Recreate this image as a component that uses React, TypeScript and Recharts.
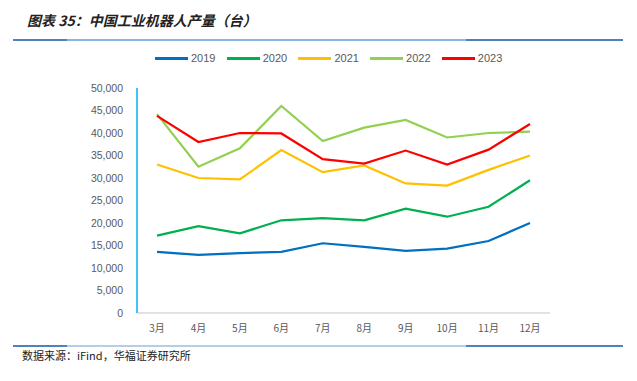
import { LineChart, Line, XAxis, YAxis, CartesianGrid } from 'recharts'

const months = ['3月', '4月', '5月', '6月', '7月', '8月', '9月', '10月', '11月', '12月']
const years = ['2019', '2020', '2021', '2022', '2023']
const colors = ['#0070C0', '#00B050', '#FFC000', '#92D050', '#FF0000']

const v2019 = [13600, 12900, 13300, 13600, 15500, 14700, 13800, 14300, 16000, 20000]
const v2020 = [17200, 19300, 17700, 20600, 21100, 20600, 23200, 21400, 23600, 29500]
const v2021 = [33000, 30000, 29700, 36200, 31300, 32800, 28800, 28300, 31800, 35000]
const v2022 = [44200, 32500, 36600, 46000, 38200, 41200, 42900, 39000, 40000, 40300]
const v2023 = [43800, 38000, 40000, 39900, 34200, 33200, 36100, 33000, 36300, 42000]
const yTicks = [0, 5000, 10000, 15000, 20000, 25000, 30000, 35000, 40000, 45000, 50000]

const series = [v2019, v2020, v2021, v2022, v2023]

const data = months.map((m, i) => {
  const row: Record<string, string | number> = { month: m }
  years.forEach((y, k) => {
    row[y] = series[k][i]
  })
  return row
})

const cjk = '"Noto Sans CJK SC", "Liberation Sans", sans-serif'

export default function App() {
  return (
    <div
      style={{
        position: 'absolute',
        left: 0,
        top: 0,
        width: 637,
        height: 381,
        background: '#fff',
        fontFamily: cjk,
        overflow: 'hidden',
      }}
    >
      {/* title */}
      <div
        style={{
          position: 'absolute',
          left: 27,
          top: 10,
          fontSize: 14,
          fontWeight: 'bold',
          fontStyle: 'italic',
          color: '#222',
        }}
      >
        图表 35：中国工业机器人产量（台）
      </div>
      <div style={{ position: 'absolute', left: 13, top: 39, width: 610, height: 2, background: '#8EB4E3' }} />
      <div style={{ position: 'absolute', left: 13, top: 39, width: 54, height: 2, background: '#4F81BD' }} />
      <div style={{ position: 'absolute', left: 466, top: 39, width: 157, height: 2, background: '#4F81BD' }} />

      {/* legend */}
      {years.map((y, k) => (
        <div
          key={y}
          style={{
            position: 'absolute',
            left: 155 + k * 71.7,
            top: 52,
            display: 'flex',
            alignItems: 'center',
            fontSize: 11,
            color: '#595959',
            fontFamily: '"Liberation Sans", sans-serif',
          }}
        >
          <div style={{ width: 33, height: 3, background: colors[k], marginRight: 3 }} />
          {y}
        </div>
      ))}

      <div style={{ position: 'absolute', left: 0, top: 45 }}>
        <LineChart
          width={637}
          height={300}
          data={data}
          margin={{ top: 43, right: 87, left: 0, bottom: 10 }}
        >
          <CartesianGrid horizontal={false} vertical={false} />
          <XAxis
            dataKey="month"
            height={22}
            padding={{ left: 20, right: 20 }}
            axisLine={{ stroke: '#D9D9D9', strokeWidth: 1.5 }}
            tickLine={false}
            tick={{ fontSize: 10, fill: '#595959', fontFamily: cjk, dy: 4 }}
            interval={0}
          />
          <YAxis
            width={137}
            domain={[0, 50000]}
            ticks={yTicks}
            axisLine={{ stroke: '#00B0F0', strokeWidth: 1.5 }}
            tickLine={false}
            tickMargin={8}
            tick={{ fontSize: 10.5, fill: '#595959', fontFamily: '"Liberation Sans", sans-serif' }}
            tickFormatter={(v: number) => v.toLocaleString('en-US')}
          />
          {years.map((y, k) => (
            <Line
              key={y}
              dataKey={y}
              stroke={colors[k]}
              strokeWidth={2.2}
              dot={false}
              isAnimationActive={false}
            />
          ))}
        </LineChart>
      </div>

      {/* footer */}
      <div style={{ position: 'absolute', left: 13, top: 345, width: 610, height: 2, background: '#B8CCE4' }} />
      <div style={{ position: 'absolute', left: 13, top: 345, width: 54, height: 2, background: '#4F81BD' }} />
      <div style={{ position: 'absolute', left: 466, top: 345, width: 157, height: 2, background: '#4F81BD' }} />
      <div style={{ position: 'absolute', left: 22, top: 347, fontSize: 11, color: '#222' }}>
        数据来源：iFind，华福证券研究所
      </div>
    </div>
  )
}
